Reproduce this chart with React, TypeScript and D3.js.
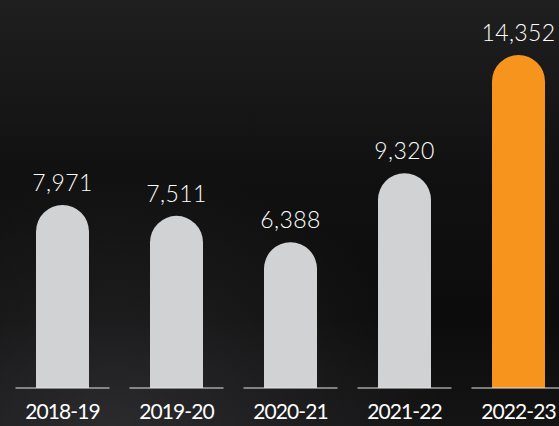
import React, { useEffect } from 'react';
import * as d3 from 'd3';

const years = ['2018-19', '2019-20', '2020-21', '2021-22', '2022-23'];
const counts = [7971, 7511, 6388, 9320, 14352];
const highlightYear = '2022-23';

const W = 559;
const H = 426;
const BASE_Y = 388;
const BAR_W = 53;
const LINE_W = 94;

const App: React.FC = () => {
  useEffect(() => {
    document.body.style.margin = '0';
  }, []);

  const x = d3.scalePoint<string>().domain(years).range([5.5, 575.5]).padding(0.5);
  // zero sits a little below the visible base line
  const y = d3.scaleLinear().domain([0, d3.max(counts) as number]).range([392.5, 55]);
  const fmt = d3.format(',');
  const r = BAR_W / 2;

  // rounded-top bar: straight sides, half circle cap
  const barPath = (cx: number, top: number) => {
    const p = d3.path();
    p.moveTo(cx - r, BASE_Y);
    p.lineTo(cx - r, top + r);
    p.arc(cx, top + r, r, Math.PI, 0);
    p.lineTo(cx + r, BASE_Y);
    p.closePath();
    return p.toString();
  };

  return (
    <svg width={W} height={H} style={{ display: 'block' }}>
      <defs>
        <linearGradient id="bg" x1="0" y1="0" x2="0" y2="1">
          <stop offset="0%" stopColor="#1f1f1f" />
          <stop offset="40%" stopColor="#111111" />
          <stop offset="75%" stopColor="#0c0c0c" />
          <stop offset="100%" stopColor="#141415" />
        </linearGradient>
        <radialGradient id="haze" cx="0.2" cy="1" r="0.6">
          <stop offset="0%" stopColor="#3a3a3e" stopOpacity="0.6" />
          <stop offset="100%" stopColor="#3a3a3e" stopOpacity="0" />
        </radialGradient>
      </defs>
      <rect width={W} height={H} fill="url(#bg)" />
      <rect width={W} height={H} fill="url(#haze)" />
      {years.map((yr, i) => {
        const cx = x(yr) as number;
        const top = y(counts[i]);
        return (
          <g key={yr}>
            <path d={barPath(cx, top)} fill={yr === highlightYear ? '#f7941d' : '#d1d2d4'} />
            <line x1={cx - LINE_W / 2} x2={cx + LINE_W / 2} y1={BASE_Y} y2={BASE_Y} stroke="#e6e6e6" strokeWidth={1.2} />
            <text x={cx} y={top - 14} textAnchor="middle" fill="#ffffff" fontFamily="Lato, sans-serif" fontWeight={300} fontSize={23} letterSpacing={0.4}>
              {fmt(counts[i])}
            </text>
            <text x={cx} y={418.5} textAnchor="middle" fill="#ffffff" fontFamily="Lato, sans-serif" fontWeight={400} fontSize={21} letterSpacing={-0.9}>
              {yr}
            </text>
          </g>
        );
      })}
    </svg>
  );
};

export default App;
